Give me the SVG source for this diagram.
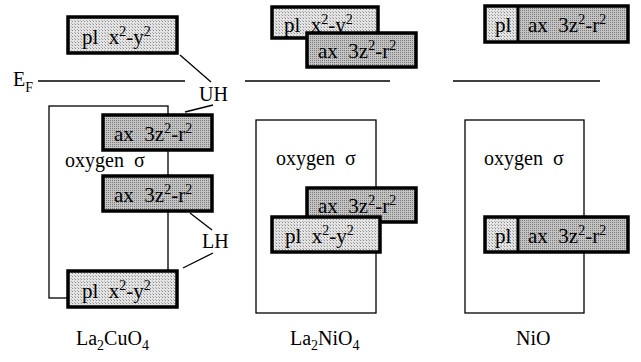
<svg xmlns="http://www.w3.org/2000/svg" width="641" height="362" viewBox="0 0 641 362" font-family="'Liberation Serif', 'DejaVu Serif', serif">
<style>
  text { font-family: 'Liberation Serif', 'DejaVu Serif', serif; fill: #000; }
  .lbl { font-size: 20px; }
  .bx { font-size: 21px; }
  .sup { font-size: 14px; }
  .sub { font-size: 14px; }
  .thin { stroke: #000; stroke-width: 1.3; fill: none; }
  .pl { fill: url(#lightDots); stroke: #000; stroke-width: 3.5; }
  .ax { fill: url(#darkDots); stroke: #000; stroke-width: 3.5; }
  .frame { fill: none; stroke: #000; stroke-width: 3.5; }
</style>
<defs>
  <pattern id="lightDots" width="3" height="3" patternUnits="userSpaceOnUse">
    <rect width="3" height="3" fill="#e4e4e4"/>
    <rect x="0" y="0" width="1" height="1" fill="#8c8c8c"/>
    <rect x="2" y="2" width="1" height="1" fill="#b0b0b0"/>
  </pattern>
  <pattern id="darkDots" width="2" height="2" patternUnits="userSpaceOnUse">
    <rect width="2" height="2" fill="#c4c4c4"/>
    <rect x="0" y="0" width="1" height="1" fill="#7a7a7a"/>
  </pattern>
</defs>
<rect width="641" height="362" fill="#fff"/>

<!-- levels and connectors -->
<g id="connectors">
  <line class="thin" x1="38" y1="81" x2="185" y2="81"/>
  <line class="thin" x1="245" y1="81" x2="390" y2="81"/>
  <line class="thin" x1="453" y1="81" x2="600" y2="81"/>
  <line class="thin" x1="180" y1="55" x2="211" y2="82"/>
  <line class="thin" x1="185" y1="112" x2="213" y2="105"/>
  <line class="thin" x1="190" y1="213" x2="212" y2="230"/>
  <line class="thin" x1="213" y1="253" x2="183" y2="268"/>
  <!-- oxygen sigma bands -->
  <rect class="thin" x="49" y="106" width="119" height="192"/>
  <rect class="thin" x="256" y="120" width="120" height="193"/>
  <rect class="thin" x="465" y="120" width="119" height="193"/>
</g>

<g id="EF"><text class="lbl" x="13" y="86">E<tspan class="sub" dy="6">F</tspan></text></g>
<g id="UH"><text class="lbl" x="199" y="101">UH</text></g>
<g id="LH"><text class="lbl" x="202" y="248">LH</text></g>

<g id="ox1"><text class="lbl" x="65" y="167" xml:space="preserve">oxygen  σ</text></g>
<g id="ox2"><text class="lbl" x="276" y="165" xml:space="preserve">oxygen  σ</text></g>
<g id="ox3"><text class="lbl" x="484" y="165" xml:space="preserve">oxygen  σ</text></g>

<!-- La2CuO4 -->
<g id="cu-pl-top">
  <rect class="pl" x="68" y="17" width="109" height="36"/>
  <text class="bx" x="82" y="44" xml:space="preserve">pl  x<tspan class="sup" dy="-8">2</tspan><tspan dy="8">-y</tspan><tspan class="sup" dy="-8">2</tspan></text>
</g>
<g id="cu-ax-1">
  <rect class="ax" x="103" y="115" width="109" height="35"/>
  <text class="bx" x="114" y="141" xml:space="preserve">ax  3z<tspan class="sup" dy="-8">2</tspan><tspan dy="8">-r</tspan><tspan class="sup" dy="-8">2</tspan></text>
</g>
<g id="cu-ax-2">
  <rect class="ax" x="103" y="176" width="109" height="35"/>
  <text class="bx" x="114" y="202" xml:space="preserve">ax  3z<tspan class="sup" dy="-8">2</tspan><tspan dy="8">-r</tspan><tspan class="sup" dy="-8">2</tspan></text>
</g>
<g id="cu-pl-bot">
  <rect class="pl" x="68" y="271" width="109" height="36"/>
  <text class="bx" x="82" y="298" xml:space="preserve">pl  x<tspan class="sup" dy="-8">2</tspan><tspan dy="8">-y</tspan><tspan class="sup" dy="-8">2</tspan></text>
</g>

<!-- La2NiO4 -->
<g id="ni-pl-top">
  <rect class="pl" x="272" y="7" width="106" height="31"/>
  <text class="bx" x="284" y="32" xml:space="preserve">pl  x<tspan class="sup" dy="-8">2</tspan><tspan dy="8">-y</tspan><tspan class="sup" dy="-8">2</tspan></text>
</g>
<g id="ni-ax-top">
  <rect class="ax" x="307" y="33" width="109" height="34"/>
  <text class="bx" x="318" y="58" xml:space="preserve">ax  3z<tspan class="sup" dy="-8">2</tspan><tspan dy="8">-r</tspan><tspan class="sup" dy="-8">2</tspan></text>
</g>
<g id="ni-ax-bot">
  <rect class="ax" x="307" y="188" width="109" height="34"/>
  <text class="bx" x="318" y="213" xml:space="preserve">ax  3z<tspan class="sup" dy="-8">2</tspan><tspan dy="8">-r</tspan><tspan class="sup" dy="-8">2</tspan></text>
</g>
<g id="ni-pl-bot">
  <rect class="pl" x="272" y="217" width="108" height="35"/>
  <text class="bx" x="285" y="243" xml:space="preserve">pl  x<tspan class="sup" dy="-8">2</tspan><tspan dy="8">-y</tspan><tspan class="sup" dy="-8">2</tspan></text>
</g>

<!-- NiO -->
<g id="nio-top">
  <rect x="485" y="6" width="33" height="36" fill="url(#lightDots)"/>
  <rect x="518" y="6" width="110" height="36" fill="url(#darkDots)"/>
  <rect class="frame" x="485" y="6" width="143" height="36"/>
  <line x1="518" y1="6" x2="518" y2="42" stroke="#000" stroke-width="3"/>
  <text class="bx" x="495" y="32">pl</text>
  <text class="bx" x="528" y="32" xml:space="preserve">ax  3z<tspan class="sup" dy="-8">2</tspan><tspan dy="8">-r</tspan><tspan class="sup" dy="-8">2</tspan></text>
</g>
<g id="nio-bot">
  <rect x="485" y="217" width="33" height="35" fill="url(#lightDots)"/>
  <rect x="518" y="217" width="110" height="35" fill="url(#darkDots)"/>
  <rect class="frame" x="485" y="217" width="143" height="35"/>
  <line x1="518" y1="217" x2="518" y2="252" stroke="#000" stroke-width="3"/>
  <text class="bx" x="495" y="243">pl</text>
  <text class="bx" x="528" y="243" xml:space="preserve">ax  3z<tspan class="sup" dy="-8">2</tspan><tspan dy="8">-r</tspan><tspan class="sup" dy="-8">2</tspan></text>
</g>

<!-- compound labels -->
<g id="lab-cu"><text class="lbl" x="76" y="345">La<tspan class="sub" dy="5">2</tspan><tspan dy="-5">CuO</tspan><tspan class="sub" dy="5">4</tspan></text></g>
<g id="lab-ni"><text class="lbl" x="290" y="345">La<tspan class="sub" dy="5">2</tspan><tspan dy="-5">NiO</tspan><tspan class="sub" dy="5">4</tspan></text></g>
<g id="lab-nio"><text class="lbl" x="516" y="345">NiO</text></g>
</svg>
